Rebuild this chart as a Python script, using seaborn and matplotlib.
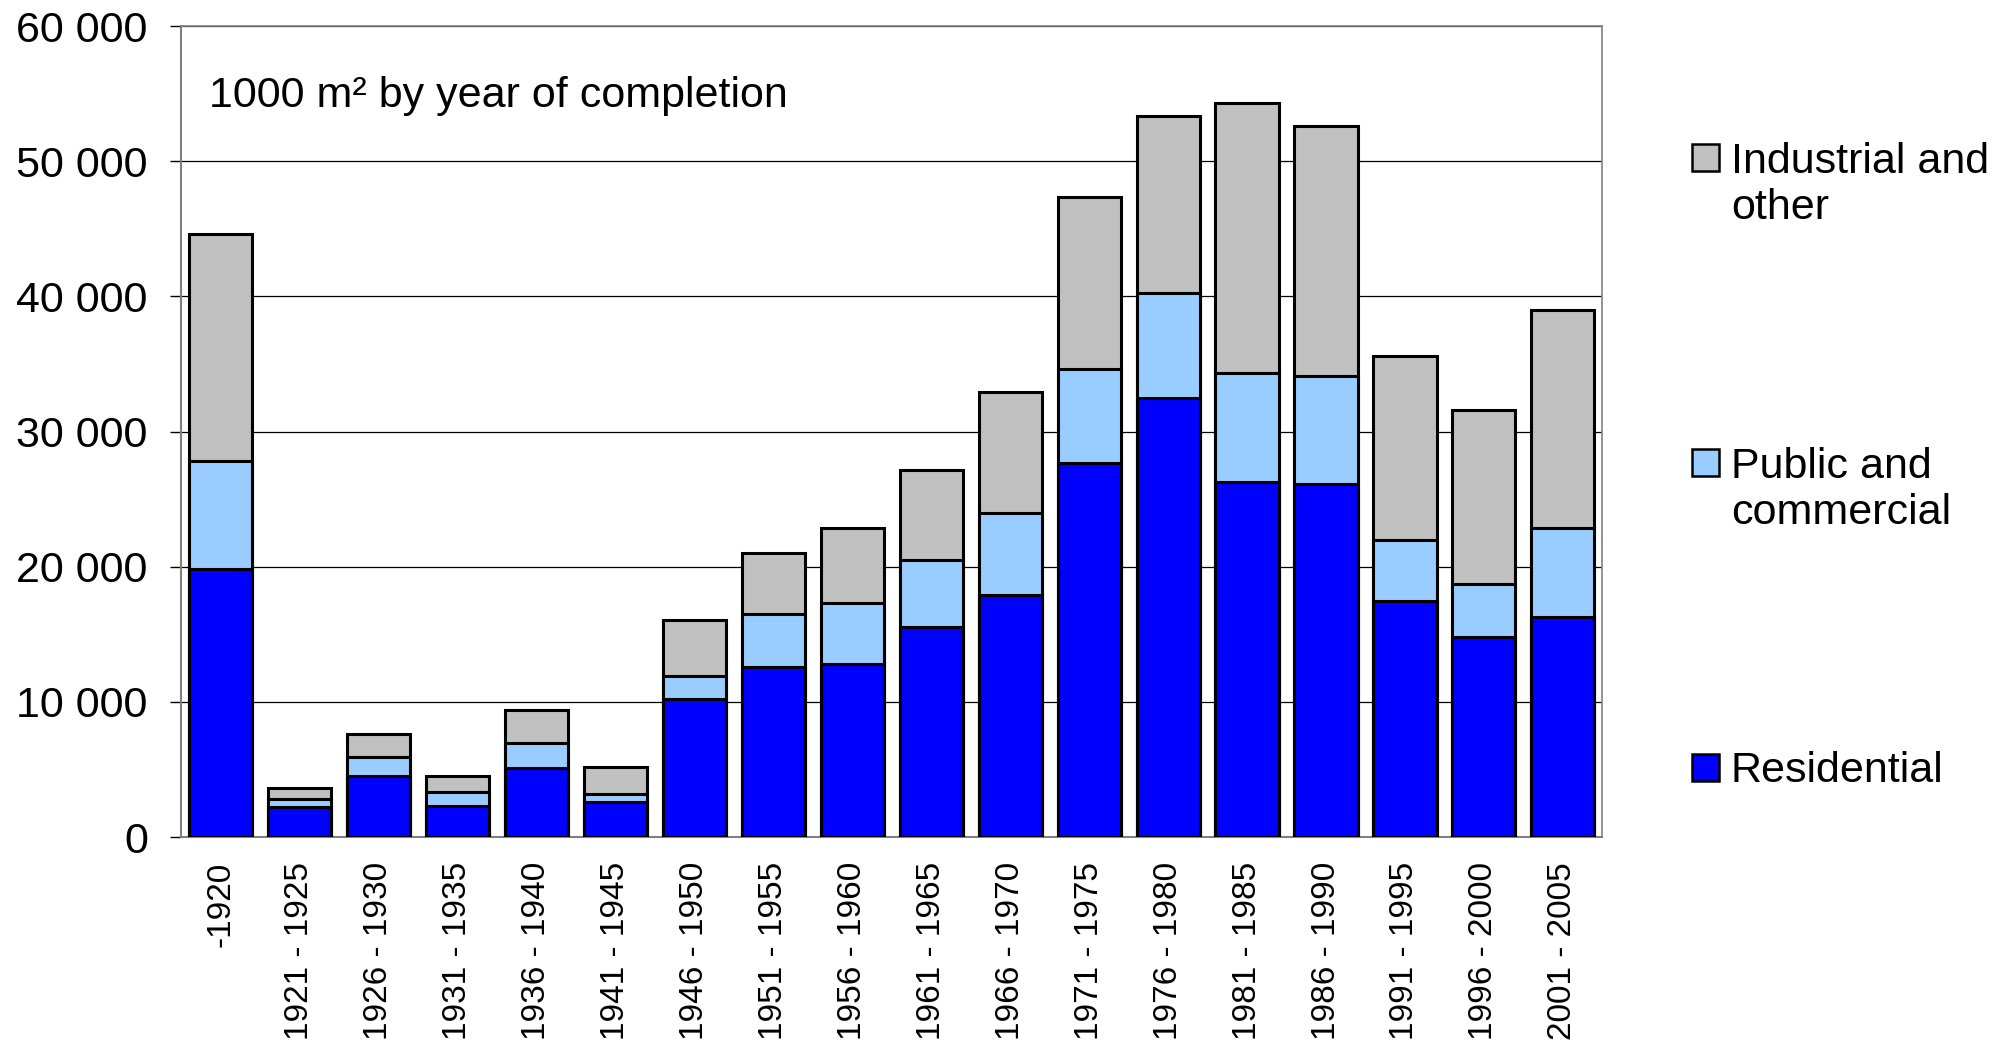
import numpy as np
import pandas as pd
import matplotlib
matplotlib.use("Agg")
import matplotlib.pyplot as plt
import seaborn as sns
from matplotlib.patches import Rectangle
from matplotlib.ticker import FuncFormatter, MultipleLocator

periods = ["-1920", "1921 - 1925", "1926 - 1930", "1931 - 1935", "1936 - 1940",
           "1941 - 1945", "1946 - 1950", "1951 - 1955", "1956 - 1960", "1961 - 1965",
           "1966 - 1970", "1971 - 1975", "1976 - 1980", "1981 - 1985", "1986 - 1990",
           "1991 - 1995", "1996 - 2000", "2001 - 2005"]
residential = [19800, 2250, 4550, 2300, 5100, 2600, 10200, 12600, 12800, 15550,
               17900, 27700, 32450, 26300, 26100, 17450, 14800, 16300]
public = [8000, 600, 1400, 1000, 1850, 550, 1750, 3900, 4550, 4950,
          6100, 6950, 7800, 8000, 8000, 4550, 3900, 6550]
industrial = [16850, 800, 1700, 1200, 2450, 2000, 4100, 4550, 5500, 6650,
              8900, 12700, 13100, 20000, 18500, 13600, 12900, 16150]

series = ["Industrial and\nother", "Public and\ncommercial", "Residential"]
colors = ["#C0C0C0", "#99CCFF", "#0000FF"]

df = pd.DataFrame({"period": periods, "res": residential, "pub": public, "ind": industrial})
df["lvl_res"] = df["res"]
df["lvl_pub"] = df["res"] + df["pub"]
df["lvl_ind"] = df["res"] + df["pub"] + df["ind"]

sns.set_style("white")
plt.rcParams["font.family"] = ["Liberation Sans", "DejaVu Sans"]
plt.rcParams["text.color"] = "black"
plt.rcParams["xtick.color"] = "black"
plt.rcParams["ytick.color"] = "black"

fig = plt.figure(figsize=(20.13, 10.45), dpi=100)
ax = fig.add_axes([0.09, 0.199, 0.706, 0.776])

# stacked look: draw cumulative totals, tallest first
for col, c in zip(["lvl_ind", "lvl_pub", "lvl_res"], colors):
    sns.barplot(data=df, x="period", y=col, color=c, width=0.8, edgecolor="black",
                linewidth=2.2, saturation=1, ax=ax, zorder=3)

ax.set_xlim(-0.5, len(periods) - 0.5)
ax.set_ylim(0, 60000)
ax.yaxis.set_major_locator(MultipleLocator(10000))
ax.yaxis.set_major_formatter(FuncFormatter(lambda v, p: f"{int(v):,}".replace(",", " ")))
ax.grid(axis="y", color="black", linewidth=0.9, zorder=0)
ax.grid(axis="x", visible=False)
ax.set_axisbelow(True)
ax.set_xlabel("")
ax.set_ylabel("")

ax.set_xticks(range(len(periods)))
ax.set_xticklabels(periods, rotation=90, fontsize=24)
ax.set_xticks(np.arange(-0.5, len(periods), 1), minor=True)
ax.tick_params(axis="x", which="major", length=0, pad=18)
ax.tick_params(axis="x", which="minor", length=8, width=1, color="#808080", direction="out")
ax.tick_params(axis="y", which="major", labelsize=31, length=8, width=1,
               color="black", direction="out", pad=16, left=True)

for s in ["top", "right"]:
    ax.spines[s].set_color("#808080")
    ax.spines[s].set_linewidth(1.2)
for s in ["left", "bottom"]:
    ax.spines[s].set_color("#808080")
    ax.spines[s].set_linewidth(1.5)

ax.text(0.0197, 0.90, "1000 m² by year of completion", transform=ax.transAxes,
        fontsize=31, va="baseline", ha="left")

# legend drawn by hand so the swatch lines up with the first text line
W, H = 2013, 1045
sw_bottom = [874, 569, 264]   # pixels from figure bottom
line_step = 47
for lab, c, yb in zip(series, colors, sw_bottom):
    fig.patches.append(Rectangle((1692 / W, yb / H), 27 / W, 27 / H, transform=fig.transFigure,
                                 facecolor=c, edgecolor="black", linewidth=1.8))
    n_extra = lab.count("\n")
    fig.text(1731 / W, (yb - 1 - n_extra * line_step) / H, lab, fontsize=31,
             va="baseline", ha="left", linespacing=1.2)

fig.savefig("out.png", dpi=100)
